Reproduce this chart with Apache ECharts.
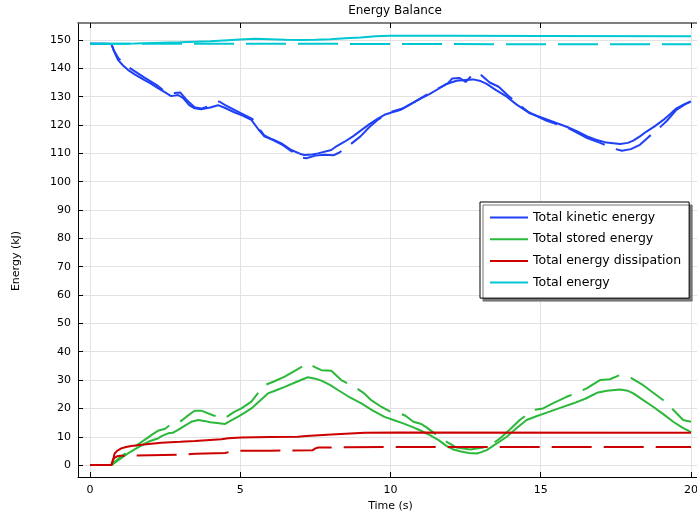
<!DOCTYPE html>
<html>
<head>
<meta charset="utf-8">
<script src="https://cdn.jsdelivr.net/npm/echarts@6/dist/echarts.min.js"></script>
<style>html,body{margin:0;padding:0;background:#fff;}#c{width:697px;height:513px;}</style>
</head>
<body>
<div id="c"></div>
<script>
const xTicks = [0, 5, 10, 15, 20];
const yTicks = [0, 10, 20, 30, 40, 50, 60, 70, 80, 90, 100, 110, 120, 130, 140, 150];
const seriesNames = ['Total kinetic energy', 'Total stored energy', 'Total energy dissipation', 'Total energy'];

const tKinSolid = [0,0.5,0.71,0.8,0.93,1.1,1.27,1.5,1.8,2.0,2.26,2.5,2.7,2.93,3.1,3.3,3.48,3.7,4.0,4.26,4.5,4.8,5.04,5.37,5.6,5.81,6.1,6.37,6.7,7.0,7.14,7.4,7.59,8.03,8.2,8.47,8.75,9.03,9.3,9.58,9.8,10.03,10.32,10.5,10.76,11.0,11.31,11.6,11.86,12.2,12.5,12.75,13.0,13.2,13.5,13.87,14.2,14.64,15.0,15.2,15.5,15.86,16.2,16.53,16.9,17.19,17.64,17.9,18.08,18.3,18.52,18.8,19.08,19.3,19.52,19.75,19.97,20.0];
const kinSolid = [148.7,148.7,148.6,146,143,141,139.4,137.8,135.9,134.8,133.0,131.5,130.2,130.6,129.5,127,125.9,125.6,126.2,127.0,126.0,124.5,123.5,121.8,118.5,115.9,114.8,113.5,111.2,109.8,109.4,109.6,110,111.2,112.5,114.1,116,118.2,120.3,122.3,123.6,124.4,125.3,126.3,127.9,129.3,131,132.8,134.5,135.6,135.9,136.1,135.5,134.5,132.4,130,127.2,124.1,122.8,122,120.8,119.4,117.8,116.1,114.6,113.8,113.3,113.7,114.5,116,117.7,119.6,121.8,123.8,125.9,127.2,128.2,128.3];

const tKinDash = [0,0.71,0.8,0.95,1.27,1.8,2.26,2.4,2.6,2.8,3.0,3.2,3.48,3.7,4.0,4.3,4.5,5.0,5.4,5.8,6.37,6.7,7.0,7.2,7.5,7.8,8.1,8.3,8.6,9.0,9.3,9.6,10.0,10.4,10.8,11.3,11.9,12.05,12.3,12.5,12.8,13.0,13.3,13.6,13.9,14.3,14.6,15.2,15.9,16.5,17.0,17.4,17.7,18.0,18.3,18.6,18.9,19.2,19.5,19.8,20.0];
const kinDash = [148.7,148.6,146.2,143.5,140.5,136.8,133.8,132.6,131.2,131.3,131.5,129,126.3,125.8,126.8,128.3,127,124.3,122.2,116.3,113.2,110.8,108.6,108.3,109.2,109.5,109.3,110.3,112.6,116,119.3,122.0,124.6,125.8,128.2,131.3,134.6,136.4,136.6,135.2,138.5,137.8,135.0,133.5,130.5,127.0,124.5,121.5,119.0,115.6,113.6,111.8,110.9,111.5,113.0,115.9,118.5,121.5,125.2,127.3,128.3];

const tStoSolid = [0,0.71,1.0,1.26,1.5,1.82,2.0,2.26,2.4,2.6,2.75,2.93,3.2,3.4,3.6,3.8,4.0,4.3,4.48,4.7,4.93,5.15,5.37,5.6,5.92,6.2,6.48,6.9,7.25,7.5,7.7,8.0,8.25,8.6,9.03,9.4,9.8,10.1,10.4,10.76,11.0,11.31,11.6,11.87,12.1,12.31,12.6,12.87,13.0,13.2,13.5,13.87,14.2,14.53,14.9,15.2,15.6,16.09,16.5,16.87,17.2,17.64,17.9,18.08,18.4,18.74,19.1,19.41,19.7,19.97,20];
const stoSolid = [0,0,2.2,4.1,5.6,7.6,8.5,9.4,10.3,11.2,11.4,12.4,14.2,15.4,15.9,15.6,15.1,14.8,14.5,15.8,17.1,18.5,20,22.2,25.3,26.4,27.6,29.5,31.0,30.5,29.8,28.2,26.5,24.2,21.8,19.3,17.0,15.9,14.8,13.3,12.2,10.6,8.8,6.7,5.5,4.9,4.3,4.1,4.5,5.3,7.4,10,13.1,15.9,17.4,18.5,20.0,21.8,23.5,25.5,26.2,26.7,26.2,25.3,23.0,20.6,17.8,15.3,13.3,11.8,11.6];

const tStoDash = [0,0.71,1.0,1.3,1.6,1.9,2.1,2.26,2.5,2.65,2.9,3.2,3.48,3.7,4.09,4.48,4.8,5.04,5.37,5.6,5.81,6.1,6.48,6.9,7.25,7.5,7.7,8.03,8.36,8.8,9.1,9.36,9.69,10.0,10.25,10.5,10.76,11.0,11.2,11.54,11.9,12.2,12.65,13.09,13.4,13.64,14.0,14.3,14.75,15.08,15.4,15.86,16.2,16.53,16.97,17.3,17.64,18.0,18.41,18.7,19.08,19.4,19.74,20];
const stoDash = [0,0,2.8,5.0,7.3,9.5,11.0,12.1,12.8,14.1,14.5,17,19.2,19.2,17.6,16.5,18.8,20,22.4,25.5,28.2,29.4,31.2,33.8,35.9,34.5,33.5,33.3,30,27.6,25.5,22.9,20.6,18.8,18.5,17.4,15.3,14.6,13.3,10.6,8.0,6.2,5.5,6.2,7.6,9.4,12.8,15.9,19.4,20,21.8,24.1,25.5,27.1,30,30.3,31.8,30.8,28.2,25.9,22.9,19.6,15.9,15.3];

const tDisSolid = [0,0.71,0.78,0.82,0.9,1.04,1.2,1.37,1.8,2.37,3.0,3.5,4.37,4.6,5.04,6.0,6.92,7.2,8.03,9.14,10.25,20];
const disSolid = [0,0,2.5,4.1,5.0,5.9,6.4,6.7,7.3,7.9,8.2,8.5,9.1,9.5,9.7,9.9,10.0,10.3,10.8,11.4,11.5,11.4];

const tDisDash = [0,0.71,0.8,0.9,1.0,2.0,3.0,3.5,4.5,4.7,5.0,6.0,7.4,7.5,7.6,8.5,10,20];
const disDash = [0,0,2.5,3.1,3.3,3.5,3.7,4.0,4.3,4.8,5.05,5.1,5.2,5.9,6.2,6.3,6.4,6.4];

const tTotSolid = [0,0.71,1.5,3,4,5,5.5,6,6.5,7,7.5,8,8.5,9,9.5,10,12,15,20];
const totSolid = [148.7,148.7,148.8,149.2,149.6,150.2,150.4,150.3,150.1,150.0,150.1,150.3,150.6,150.9,151.3,151.5,151.5,151.4,151.3];

const tTotDash = [0,0.71,5,10,15,20];
const totDash = [148.7,148.7,148.7,148.6,148.5,148.5];

const colors = ['#1f40f5', '#2cb83a', '#cc0000', '#00c8d2'];
const FONT = 'DejaVu Sans';

function pairs(t, v) { return t.map((x, i) => [x, v[i]]); }

function mk(name, t, v, color, dashed) {
  return {
    name: name, type: 'line', xAxisIndex: 0, yAxisIndex: 0,
    data: pairs(t, v), symbol: 'none', smooth: false, animation: false,
    lineStyle: { color: color, width: 2, type: dashed ? [40, 12] : 'solid' },
    itemStyle: { color: color },
    emphasis: { disabled: true }
  };
}

const chart = echarts.init(document.getElementById('c'), null, { renderer: 'canvas' });
chart.setOption({
  animation: false,
  backgroundColor: '#fff',
  textStyle: { fontFamily: FONT },
  title: {
    text: 'Energy Balance', left: 390, top: 0, textAlign: 'center',
    textStyle: { fontSize: 12, fontWeight: 'normal', color: '#000', fontFamily: FONT }
  },
  grid: { left: 78, top: 23, width: 625, bottom: 36, containLabel: false, outerBoundsMode: 'none' },
  legend: {
    data: seriesNames, orient: 'vertical', left: 480, top: 202,
    icon: 'rect',
    padding: [9, 8, 9, 10], itemWidth: 38, itemHeight: 2, itemGap: 8.7,
    backgroundColor: '#fff', borderColor: '#000', borderWidth: 1,
    shadowColor: '#777', shadowBlur: 0, shadowOffsetX: 3, shadowOffsetY: 3,
    textStyle: { fontSize: 12.5, color: '#000', fontFamily: FONT },
    selectedMode: false
  },
  xAxis: [{
    type: 'value', min: -0.4, max: 20.4, position: 'bottom',
    name: 'Time (s)', nameLocation: 'middle', nameGap: 24,
    nameTextStyle: { fontSize: 11, color: '#000', fontFamily: FONT },
    axisLine: { show: true, onZero: false, lineStyle: { color: '#000', width: 1 } },
    axisTick: { show: true, inside: true, length: 5, customValues: xTicks, lineStyle: { color: '#000' } },
    axisLabel: { customValues: xTicks, color: '#000', fontSize: 11, margin: 8, fontFamily: FONT },
    splitLine: { show: true, lineStyle: { color: '#e2e2e2', width: 1 } }
  }, {
    type: 'value', min: -0.4, max: 20.4, position: 'top',
    axisLine: { show: true, onZero: false, lineStyle: { color: '#555', width: 1.5 } },
    axisTick: { show: true, inside: true, length: 5, customValues: xTicks, lineStyle: { color: '#000' } },
    axisLabel: { show: false },
    splitLine: { show: false }
  }],
  yAxis: [{
    type: 'value', min: -4.2, max: 156,
    axisLine: { show: true, onZero: false, lineStyle: { color: '#000', width: 1 } },
    axisTick: { show: true, inside: true, length: 5, customValues: yTicks, lineStyle: { color: '#000' } },
    axisLabel: { customValues: yTicks, color: '#000', fontSize: 11, margin: 7, fontFamily: FONT },
    splitLine: { show: true, lineStyle: { color: '#e2e2e2', width: 1 } }
  }],
  graphic: [{
    type: 'text', x: 16, y: 261, rotation: Math.PI / 2,
    style: { text: 'Energy (kJ)', align: 'center', verticalAlign: 'middle', font: '11px "DejaVu Sans"', fill: '#000' }
  }],
  series: [
    mk(seriesNames[0], tKinSolid, kinSolid, colors[0], false),
    mk('kinetic (dashed)', tKinDash, kinDash, colors[0], true),
    mk(seriesNames[1], tStoSolid, stoSolid, colors[1], false),
    mk('stored (dashed)', tStoDash, stoDash, colors[1], true),
    mk(seriesNames[2], tDisSolid, disSolid, colors[2], false),
    mk('dissipation (dashed)', tDisDash, disDash, colors[2], true),
    mk(seriesNames[3], tTotSolid, totSolid, colors[3], false),
    mk('total (dashed)', tTotDash, totDash, colors[3], true)
  ]
});
</script>
</body>
</html>
